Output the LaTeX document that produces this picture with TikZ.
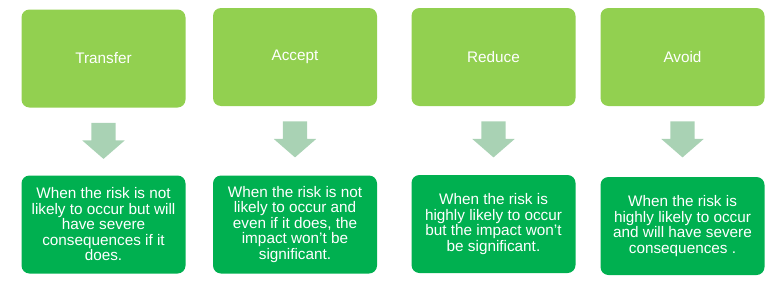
\documentclass[tikz,border=0pt]{standalone}
\usepackage{fontspec}
\setmainfont{Liberation Sans}
\usetikzlibrary{shapes.arrows,calc}

\definecolor{lightgreen}{HTML}{92D050}
\definecolor{darkgreen}{HTML}{00B050}
\definecolor{mintgreen}{RGB}{169,210,180}

\begin{document}
\begin{tikzpicture}[
    x=1pt, y=-1pt,
    box/.style={rectangle, rounded corners=8pt, minimum width=164pt, minimum height=98pt,
                align=center, text=white, font=\fontsize{15.3}{15.5}\selectfont},
    option/.style={box, fill=lightgreen},
    reason/.style={box, fill=darkgreen},
    arrowdown/.style={single arrow, fill=mintgreen, rotate=-90, anchor=tail,
                      inner xsep=0pt, inner ysep=12pt,
                      minimum height=36pt, single arrow head extend=9pt,
                      single arrow head indent=0pt, single arrow tip angle=98}
]
\useasboundingbox (0,0) rectangle (768,300);

% Risk responses
\node[option] (t1) at (103.5, 58.5) {Transfer};
\node[option] (t2) at (295,   57)   {Accept};
\node[option] (t3) at (493.5, 57)   {Reduce};
\node[option] (t4) at (682.5, 57)   {Avoid};

% When to use them
\node[reason] (b1) at (103.5, 224.5) {When the risk is not\\likely to occur but will\\have severe\\consequences if it\\does.};
\node[reason] (b2) at (295,   224.5) {When the risk is not\\likely to occur and\\even if it does, the\\impact won't be\\significant.};
\node[reason] (b3) at (493.5, 224)   {When the risk is\\highly likely to occur\\but the impact won't\\be significant.};
\node[reason] (b4) at (682.5, 226)   {When the risk is\\highly likely to occur\\and will have severe\\consequences .};

% Arrows between the rows
\foreach \i in {1,2,3,4}{
    \node[arrowdown] (a\i) at ($(t\i.south)+(0,15)$) {};
}

\end{tikzpicture}
\end{document}
